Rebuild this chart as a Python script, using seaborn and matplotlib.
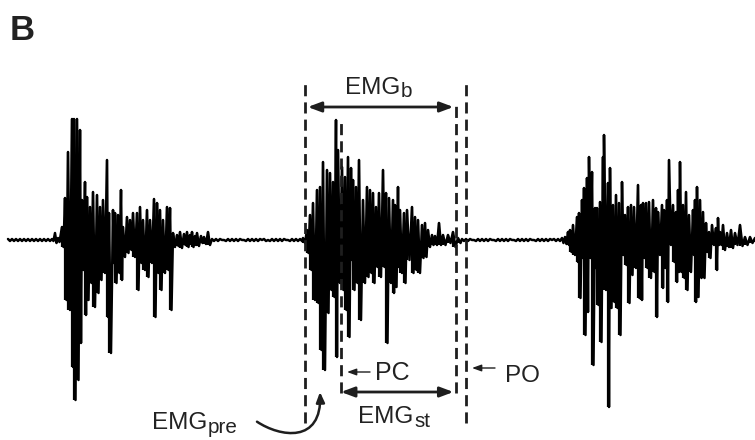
import numpy as np
import pandas as pd
import matplotlib
matplotlib.use("Agg")
import matplotlib.pyplot as plt
from matplotlib.path import Path
from matplotlib.patches import FancyArrowPatch
import seaborn as sns

# ---------------- data (time in ms, amplitude in uV) ----------------
quiet1_t = [8, 12, 16, 20, 24, 28, 32, 36, 40, 44, 48, 52, 55, 58]
quiet1_hi = [1, 1, 1, 1, 1, 1, 1, 1, 1, 1, 1, 1, 7, 2]
quiet1_lo = [-1, -1, -1, -1, -1, -1, -1, -1, -1, -1, -1, -1, -3, -2]

burst1_t = [62, 65, 68, 72, 74, 77, 80, 82, 85, 87, 90, 93, 97, 100, 103, 107, 109, 113, 115,
            118, 121, 123, 127, 130, 133, 137, 140, 143, 147, 150, 154, 157, 160, 163, 167,
            170, 173, 177, 180, 184, 187, 190, 192, 195, 197, 201, 204, 208]
burst1_hi = [13, 42, 88, 121, 121, 121, 110, 40, 58, 43, 33, 48, 45, 33, 40, 80, 27, 30, 27,
             25, 50, 13, 23, 20, 27, 27, 33, 20, 30, 20, 41, 37, 30, 20, 33,
             32, 7, 5, 8, 6, 8, 5, 8, 4, 7, 4, 3, 8]
burst1_lo = [-7, -60, -70, -127, -160, -140, -103, -30, -75, -60, -43, -67, -53, -40, -33, -77,
             -113, -23, -43, -33, -40, -17, -13, -10, -17, -50, -23, -30, -37, -23, -77, -33,
             -50, -33, -30, -70, -7, -6, -8, -5, -7, -4, -7, -5, -6, -3, -4, -5]

quiet2_t = [212, 216, 220, 224, 228, 232, 236, 240, 244, 248, 252, 256, 260, 264, 268, 272,
            276, 280, 284, 288, 292, 296, 300]
quiet2_hi = [1, 1, 1, 0, 1, 1, 1, 1, 0, 1, 1, 1, 1, 1, 0, 1, 1, 1, 1, 0, 1, 1, 1]
quiet2_lo = [-1, -1, 0, -1, -1, -1, -1, 0, -1, -1, -1, -1, 0, -1, -1, -1, -1, -1, 0, -1, -1, -1, -1]

burst2_t = [303, 307, 310, 313, 317, 320, 323, 327, 330, 333, 336, 338, 342, 345, 348, 351,
            353, 356, 359, 363, 367, 370, 373, 376, 379, 383, 386, 389, 393, 395, 398, 400,
            404, 407, 412, 415, 418, 422, 425, 428, 432, 435, 439, 443, 448, 453, 458]
burst2_hi = [2, 10, 25, 37, 50, 53, 78, 70, 67, 58, 120, 90, 73, 63, 83, 72,
             60, 53, 80, 40, 53, 50, 47, 33, 47, 70, 47, 42, 40, 35, 53, 30,
             27, 30, 33, 23, 20, 15, 17, 10, 5, 4, 17, 5, 5, 8, 2]
burst2_lo = [-3, -13, -30, -60, -63, -110, -130, -73, -50, -57, -117, -43, -50, -70, -97, -20,
             -50, -43, -80, -43, -37, -33, -43, -27, -37, -27, -103, -43, -53, -47, -27, -33,
             -43, -20, -33, -30, -33, -18, -17, -7, -5, -5, -5, -5, -3, -7, -3]

quiet3_t = [462, 466, 470, 474, 478, 482, 486, 490, 494, 498, 502, 506, 510, 514, 518, 522,
            526, 530, 534, 538, 542, 546, 550, 554, 558, 562, 565]
quiet3_hi = [1, 1, 1, 0, 1, 1, 1, 1, 0, 1, 1, 1, 1, 0, 1, 1, 1, 1, 0, 1, 1, 1, 1, 1, 1, 2, 3]
quiet3_lo = [-1, -1, 0, -1, -1, -1, -1, 0, -1, -1, -1, -1, 0, -1, -1, -1, -1, 0, -1, -1,
             -1, -1, 0, -1, -1, -3, -4]

burst3_t = [568, 570, 573, 577, 579, 582, 584, 587, 589, 592, 595, 597, 600, 603, 604, 608,
            610, 613, 616, 619, 622, 625, 628, 631, 634, 638, 641, 643, 646, 649, 653, 656,
            658, 662, 664, 667, 669, 673, 676, 678, 680, 683, 686, 689, 693, 695, 697, 700,
            703, 706, 709, 712, 716, 718, 720, 723, 727, 731, 735, 740, 745, 750, 755]
burst3_hi = [8, 10, 15, 23, 27, 40, 52, 62, 83, 68, 32, 32, 38, 83, 105, 57,
             72, 35, 45, 37, 58, 25, 33, 35, 33, 55, 35, 37, 37, 38, 40, 32,
             28, 35, 30, 40, 80, 35, 28, 50, 78, 35, 48, 25, 30, 40, 53, 40,
             28, 17, 8, 15, 12, 22, 8, 15, 7, 10, 7, 15, 3, 3, 2]
burst3_lo = [-5, -12, -15, -22, -58, -18, -95, -72, -18, -125, -28, -65, -102, -42, -50, -167,
             -68, -62, -68, -95, -15, -25, -63, -35, -28, -58, -60, -18, -28, -38, -32, -77,
             -15, -48, -28, -62, -5, -22, -42, -32, -32, -38, -50, -32, -15, -62, -57, -38,
             -38, -12, -18, -5, -30, -5, -5, -10, -7, -8, -5, -6, -5, -3, -2]

# event markers (ms)
event_times = {"onset": 305, "PC": 341, "offset": 455.5, "PO": 466}

segments = [
    (quiet1_t, quiet1_hi, quiet1_lo),
    (burst1_t, burst1_hi, burst1_lo),
    (quiet2_t, quiet2_hi, quiet2_lo),
    (burst2_t, burst2_hi, burst2_lo),
    (quiet3_t, quiet3_hi, quiet3_lo),
    (burst3_t, burst3_hi, burst3_lo),
]
bursts = [segments[1], segments[3], segments[5]]


def zigzag(t, hi, lo):
    xs, ys = [], []
    for i in range(len(t)):
        step = (t[i + 1] - t[i]) if i + 1 < len(t) else (t[i] - t[i - 1])
        xs += [t[i], t[i] + step / 2.0]
        ys += [hi[i], lo[i]]
    return xs, ys


xs, ys = [], []
for t, hi, lo in segments:
    a, b = zigzag(t, hi, lo)
    xs += a
    ys += b
df = pd.DataFrame({"time_ms": xs, "emg_uv": ys})

# ---------------- figure ----------------
sns.set_theme(style="white")
plt.rcParams["font.family"] = ["Liberation Sans", "DejaVu Sans"]

fig = plt.figure(figsize=(7.55, 4.40), dpi=100)
ax = fig.add_axes([0, 0, 1, 1])
sns.lineplot(data=df, x="time_ms", y="emg_uv", sort=False, estimator=None,
             color="black", linewidth=1.8, ax=ax)
# each sample's peak-to-peak excursion as a vertical stroke
for t, hi, lo in bursts:
    ax.vlines(t, lo, hi, colors="black", lw=1.6)
ax.set_xlim(0, 755)
ax.set_ylim(-200, 240)
ax.axis("off")

dcol = "#1e1e1e"
dash = (0, (4, 2.2))
dlw = 2.0
ax.vlines(event_times["onset"], -183, 158, colors=dcol, linestyles=dash, lw=dlw)
ax.vlines(event_times["PO"], -183, 158, colors=dcol, linestyles=dash, lw=dlw)
ax.vlines(event_times["PC"], -153, 120, colors=dcol, linestyles=dash, lw=dlw)
ax.vlines(event_times["offset"], -153, 135, colors=dcol, linestyles=dash, lw=dlw)

big = dict(arrowstyle="<|-|>,head_length=0.8,head_width=0.3", color=dcol,
           lw=2.0, shrinkA=2, shrinkB=1.5, mutation_scale=10)
ax.annotate("", xy=(event_times["offset"], 133), xytext=(event_times["onset"], 133),
            arrowprops=big)
ax.annotate("", xy=(event_times["offset"], -152), xytext=(event_times["PC"], -152),
            arrowprops=dict(big, shrinkA=0))

small = dict(arrowstyle="-|>,head_length=0.55,head_width=0.2", color=dcol,
             lw=1.0, shrinkA=0, shrinkB=0, mutation_scale=10)
ax.annotate("", xy=(347, -132), xytext=(370, -132), arrowprops=small)
ax.annotate("", xy=(472, -128), xytext=(495, -128), arrowprops=small)

fs = 17.5
tcol = "#222222"


def label(x, y, main, sub, size=fs):
    t = ax.text(x, y, main, fontsize=size, color=tcol, ha="left", va="baseline")
    if sub:
        ax.annotate(sub, xy=(1, 0), xycoords=t, xytext=(0.5, -2),
                    textcoords="offset points", fontsize=size * 0.85, color=tcol,
                    ha="left", va="bottom")
    return t


label(345, 146.5, "EMG", "b")
label(358, -183, "EMG", "st")
label(152, -189, "EMG", "pre")
ax.text(375, -140, "PC", fontsize=fs + 0.5, color=tcol, ha="left", va="baseline")
ax.text(505, -141.5, "PO", fontsize=fs, color=tcol, ha="left", va="baseline")
ax.text(10, 200.5, "B", fontsize=25, fontweight="bold", color=tcol, ha="left", va="baseline")

curve = Path([(257, -181.7), (280, -197), (322, -204), (320, -152)],
             [Path.MOVETO, Path.CURVE4, Path.CURVE4, Path.CURVE4])
ax.add_patch(FancyArrowPatch(path=curve, arrowstyle="-|>,head_length=0.6,head_width=0.25",
                             color=dcol, lw=1.8, mutation_scale=10))

fig.savefig("out.png", dpi=100)
